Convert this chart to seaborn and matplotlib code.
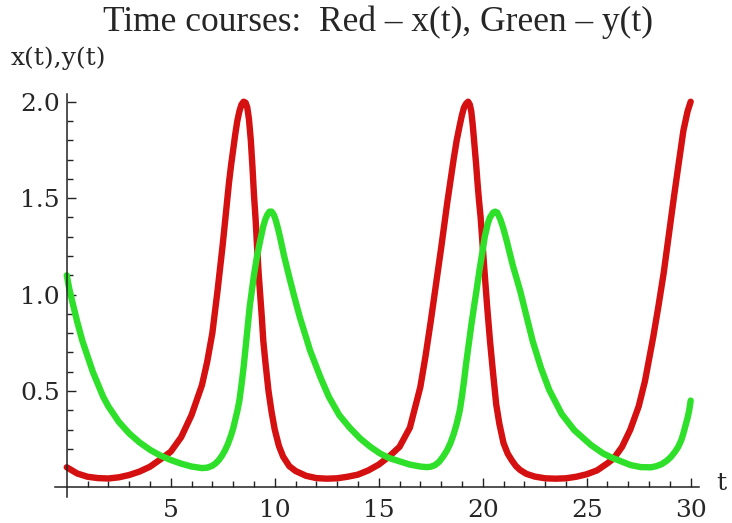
import matplotlib
matplotlib.use('Agg')
import matplotlib.pyplot as plt
import seaborn as sns
from matplotlib.ticker import FixedLocator

# values
t_red = [0.0, 0.5, 1.0, 1.5, 2.0, 2.5, 3.0, 3.5, 4.0, 4.5, 5.0, 5.5, 6.0, 6.5, 6.75,
         7.0, 7.25, 7.5, 7.65, 7.8, 7.9, 8.0, 8.1, 8.2, 8.3, 8.4, 8.5, 8.6, 8.68, 8.76,
         8.85, 8.93, 9.0, 9.08, 9.15, 9.22, 9.3, 9.38, 9.45, 9.55, 9.7, 9.85, 10.0,
         10.2, 10.4, 10.7, 11.0, 11.5, 12.0, 12.5, 13.0, 13.5, 14.0, 14.5, 15.0, 15.5,
         16.0, 16.5, 17.0, 17.25, 17.5, 17.75, 18.0, 18.15, 18.3, 18.45, 18.6, 18.75,
         18.9, 19.0, 19.1, 19.2, 19.3, 19.38, 19.45, 19.52, 19.6, 19.68, 19.75, 19.82,
         19.9, 20.0, 20.1, 20.22, 20.35, 20.5, 20.65, 20.8, 21.0, 21.2, 21.4, 21.6,
         21.8, 22.1, 22.5, 23.0, 23.5, 24.0, 24.5, 25.0, 25.5, 26.0, 26.3, 26.7, 27.1,
         27.5, 27.8, 28.2, 28.45, 28.7, 28.95, 29.2, 29.45, 29.65, 29.85, 30.0]
x_red = [0.104, 0.072, 0.055, 0.048, 0.046, 0.052, 0.064, 0.082, 0.107, 0.145, 0.185,
         0.26, 0.375, 0.53, 0.65, 0.80, 1.02, 1.26, 1.42, 1.58, 1.67, 1.75, 1.83, 1.90,
         1.95, 1.985, 2.00, 1.995, 1.97, 1.91, 1.80, 1.66, 1.52, 1.39, 1.25, 1.12, 1.00,
         0.88, 0.76, 0.65, 0.50, 0.39, 0.30, 0.215, 0.16, 0.11, 0.085, 0.060, 0.048,
         0.045, 0.047, 0.055, 0.066, 0.088, 0.118, 0.16, 0.21, 0.31, 0.52, 0.68, 0.86,
         1.05, 1.24, 1.36, 1.48, 1.59, 1.70, 1.80, 1.88, 1.93, 1.97, 1.99, 2.00, 1.985,
         1.95, 1.88, 1.78, 1.68, 1.58, 1.49, 1.40, 1.25, 1.10, 0.93, 0.76, 0.59, 0.43,
         0.33, 0.23, 0.175, 0.14, 0.11, 0.09, 0.07, 0.056, 0.047, 0.045, 0.047, 0.055,
         0.068, 0.088, 0.125, 0.15, 0.21, 0.30, 0.42, 0.55, 0.78, 0.94, 1.11, 1.31,
         1.51, 1.70, 1.85, 1.95, 2.00]

t_green = [0.0, 0.12, 0.25, 0.5, 0.75, 1.0, 1.25, 1.5, 1.75, 2.0, 2.5, 3.0, 3.5, 4.0,
           4.5, 5.0, 5.5, 6.0, 6.5, 6.75, 7.0, 7.15, 7.3, 7.45, 7.6, 7.75, 7.9, 8.0,
           8.1, 8.2, 8.3, 8.4, 8.5, 8.65, 8.8, 8.9, 9.0, 9.15, 9.3, 9.45, 9.55, 9.65,
           9.75, 9.85, 9.95, 10.05, 10.15, 10.25, 10.45, 10.7, 10.95, 11.2, 11.7, 12.2,
           12.6, 13.1, 13.6, 14.1, 14.6, 15.06, 15.5, 16.0, 16.5, 17.0, 17.3, 17.5,
           17.7, 17.9, 18.1, 18.3, 18.45, 18.6, 18.75, 18.9, 19.0, 19.1, 19.2, 19.35,
           19.45, 19.6, 19.7, 19.85, 20.0, 20.1, 20.25, 20.35, 20.5, 20.6, 20.7, 20.85,
           21.0, 21.15, 21.45, 21.8, 22.1, 22.4, 22.8, 23.2, 23.8, 24.4, 25.2, 25.8,
           26.3, 27.1, 27.6, 28.1, 28.35, 28.6, 28.85, 29.06, 29.25, 29.4, 29.55,
           29.65, 29.75, 29.85, 29.93, 30.0]
y_green = [1.10, 1.03, 0.97, 0.86, 0.76, 0.68, 0.60, 0.535, 0.47, 0.42, 0.34, 0.28,
           0.233, 0.195, 0.165, 0.142, 0.123, 0.108, 0.100, 0.102, 0.112, 0.124, 0.14,
           0.162, 0.19, 0.225, 0.27, 0.305, 0.35, 0.395, 0.45, 0.53, 0.62, 0.78, 0.94,
           1.02, 1.10, 1.20, 1.28, 1.355, 1.39, 1.415, 1.43, 1.43, 1.415, 1.385, 1.345,
           1.30, 1.20, 1.09, 0.985, 0.885, 0.71, 0.57, 0.47, 0.375, 0.31, 0.254, 0.21,
           0.176, 0.152, 0.135, 0.118, 0.108, 0.105, 0.107, 0.115, 0.132, 0.16, 0.195,
           0.23, 0.275, 0.33, 0.40, 0.47, 0.55, 0.64, 0.76, 0.84, 0.95, 1.02, 1.13,
           1.23, 1.30, 1.37, 1.40, 1.425, 1.43, 1.425, 1.39, 1.34, 1.28, 1.15, 1.02,
           0.89, 0.76, 0.62, 0.505, 0.38, 0.297, 0.22, 0.175, 0.15, 0.116, 0.105,
           0.104, 0.11, 0.12, 0.138, 0.159, 0.185, 0.21, 0.245, 0.28, 0.32, 0.36,
           0.40, 0.45]

x_major = [5, 10, 15, 20, 25, 30]
x_minor = [i for i in range(1, 31) if i % 5 != 0]
y_major = [0.5, 1.0, 1.5, 2.0]
y_major_labels = ['0.5', '1.0', '1.5', '2.0']
y_minor = [i / 10 for i in range(1, 20) if i % 5 != 0]

sns.set_style('white')
plt.rcParams['font.family'] = ['DejaVu Serif', 'Liberation Serif']

fig = plt.figure(figsize=(7.32, 5.23), dpi=100)
ax = fig.add_axes([54.7 / 732, 26 / 523, (699 - 54.7) / 732, (497 - 94) / 523])

red = '#d41010'
green = '#2ee02a'
sns.lineplot(x=t_red, y=x_red, color=red, lw=4.6, ax=ax, errorbar=None,
             solid_capstyle='round', solid_joinstyle='round')
sns.lineplot(x=t_green, y=y_green, color=green, lw=4.6, ax=ax, errorbar=None,
             solid_capstyle='round', solid_joinstyle='round')

ax.set_xlim(-0.58, 30.4)
ax.set_ylim(-0.05, 2.04)

# axes cross at the origin, like the original
for side in ['top', 'right']:
    ax.spines[side].set_visible(False)
for side in ['left', 'bottom']:
    ax.spines[side].set_position(('data', 0))
    ax.spines[side].set_linewidth(1.1)
    ax.spines[side].set_color('#222222')

ax.xaxis.set_major_locator(FixedLocator(x_major))
ax.xaxis.set_minor_locator(FixedLocator(x_minor))
ax.yaxis.set_major_locator(FixedLocator(y_major))
ax.yaxis.set_minor_locator(FixedLocator(y_minor))
ax.set_yticklabels(y_major_labels)

ax.tick_params(which='both', bottom=True, left=True, direction='in', width=1.0,
               color='#222222')
ax.tick_params(which='major', length=6.5, labelsize=18)
ax.tick_params(which='minor', length=4.2)
ax.tick_params(axis='x', pad=8.5)
ax.tick_params(axis='y', pad=5)

ax.set_xlabel('')
ax.set_ylabel('')

fig.text(378 / 732, 1 - 22 / 523, 'Time courses:  Red \u2013 x(t), Green \u2013 y(t)',
         ha='center', va='center', fontsize=25.5, family=['Liberation Serif'])
fig.text(11 / 732, 1 - 58 / 523, 'x(t),y(t)', ha='left', va='center', fontsize=18)
fig.text(716 / 732, 1 - 484 / 523, 't', ha='left', va='center', fontsize=18)

fig.savefig('out.png', dpi=100)
